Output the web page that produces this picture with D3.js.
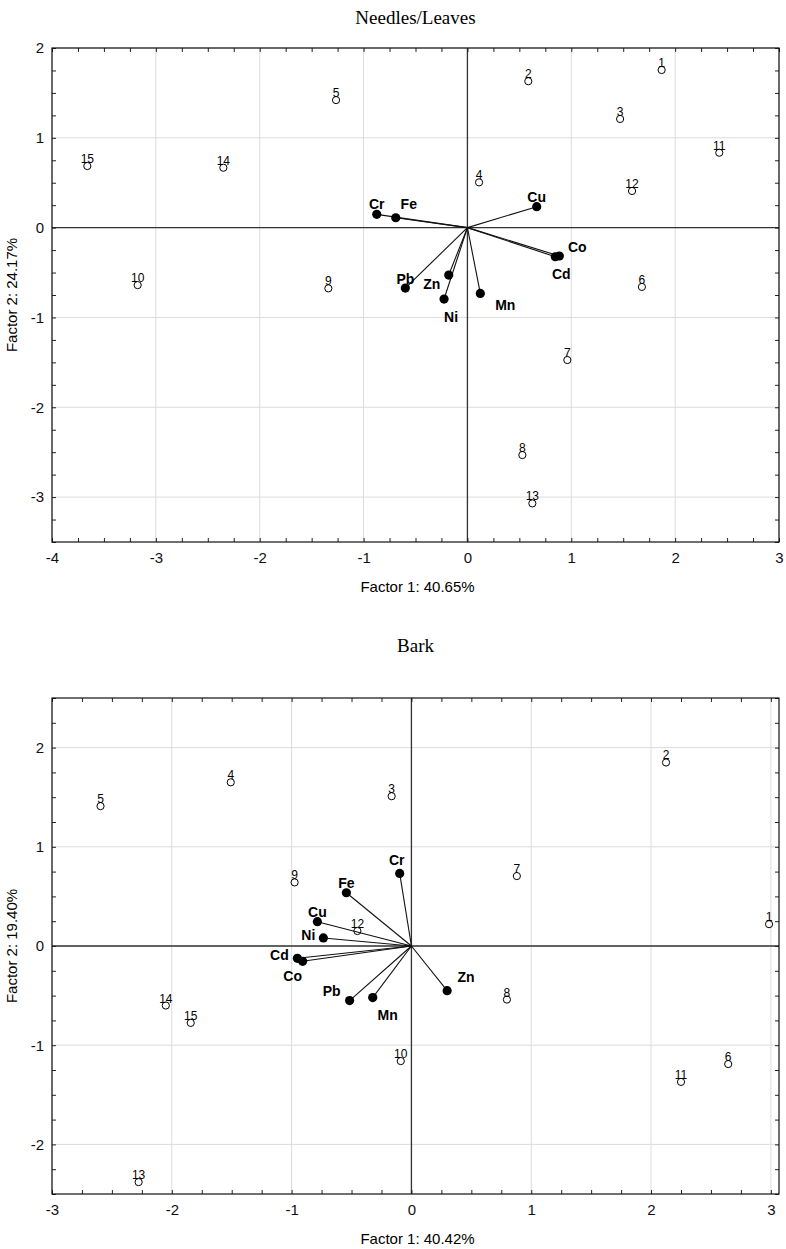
<!DOCTYPE html>
<html><head><meta charset="utf-8">
<script src="https://cdn.jsdelivr.net/npm/d3@7"></script>
<style>body{margin:0;background:#fff}svg{display:block}</style>
</head><body><svg id="c" width="786" height="1249"></svg>
<script>
// ---------- data ----------
const caseIds = ["1","2","3","4","5","6","7","8","9","10","11","12","13","14","15"];
const needlesCaseF1 = [1.87, 0.586, 1.47, 0.112, -1.265, 1.68, 0.962, 0.529, -1.339, -3.175, 2.425, 1.585, 0.625, -2.35, -3.66];
const needlesCaseF2 = [1.755, 1.63, 1.21, 0.504, 1.42, -0.66, -1.474, -2.532, -0.676, -0.64, 0.834, 0.408, -3.07, 0.667, 0.686];
const needlesElements = ["Cr","Fe","Cu","Co","Cd","Pb","Zn","Ni","Mn"];
const needlesLoadF1 = [-0.873, -0.69, 0.667, 0.885, 0.846, -0.598, -0.18, -0.225, 0.124];
const needlesLoadF2 = [0.148, 0.11, 0.233, -0.316, -0.324, -0.673, -0.528, -0.795, -0.732];

const barkCaseF1 = [2.985, 2.125, -0.165, -1.508, -2.595, 2.644, 0.88, 0.797, -0.975, -0.089, 2.25, -0.451, -2.277, -2.05, -1.842];
const barkCaseF2 = [0.22, 1.85, 1.51, 1.65, 1.41, -1.19, 0.705, -0.54, 0.641, -1.16, -1.37, 0.151, -2.38, -0.60, -0.775];
const barkElements = ["Cr","Fe","Cu","Ni","Cd","Co","Pb","Mn","Zn"];
const barkLoadF1 = [-0.098, -0.543, -0.785, -0.735, -0.952, -0.908, -0.516, -0.323, 0.298];
const barkLoadF2 = [0.732, 0.537, 0.245, 0.081, -0.124, -0.154, -0.55, -0.52, -0.45];

const needlesXTicks = [-4,-3,-2,-1,0,1,2,3];
const needlesYTicks = [-3,-2,-1,0,1,2];
const barkXTicks = [-3,-2,-1,0,1,2,3];
const barkYTicks = [-2,-1,0,1,2];

// ---------- layout (label offsets in px, not data) ----------
const needlesLabelOff = {Cr:[0,-10],Fe:[13,-14],Cu:[0,-10],Co:[18,-9],Cd:[6,17],Pb:[0,-9],Zn:[-17,9],Ni:[7,18],Mn:[25,12]};
const barkLabelOff = {Cr:[-3,-13],Fe:[0,-10],Cu:[0,-10],Ni:[-15,-3],Cd:[-18,-3],Co:[-10,15],Pb:[-18,-10],Mn:[15,17],Zn:[19,-14]};

const svg = d3.select("#c");
const fmt = d => d < 0 ? "-" + Math.abs(d) : String(d);

function panel(o) {
  const x = d3.scaleLinear().domain(o.xDom).range([o.left, o.right]);
  const y = d3.scaleLinear().domain(o.yDom).range([o.bottom, o.top]);
  const g = svg.append("g");

  g.append("text").attr("x", (o.left + o.right) / 2).attr("y", o.titleY)
    .attr("text-anchor", "middle").style("font-family", "'Liberation Serif','Times New Roman',serif")
    .style("font-size", "19px").text(o.title);

  g.selectAll(".gx").data(o.xTicks).join("line")
    .attr("x1", d => x(d)).attr("x2", d => x(d)).attr("y1", o.top).attr("y2", o.bottom)
    .attr("stroke", "#dcdcdc").attr("stroke-width", 1);
  g.selectAll(".gy").data(o.yTicks).join("line")
    .attr("y1", d => y(d)).attr("y2", d => y(d)).attr("x1", o.left).attr("x2", o.right)
    .attr("stroke", "#dcdcdc").attr("stroke-width", 1);

  g.append("line").attr("x1", x(0)).attr("x2", x(0)).attr("y1", o.top).attr("y2", o.bottom)
    .attr("stroke", "#333").attr("stroke-width", 1.3);
  g.append("line").attr("y1", y(0)).attr("y2", y(0)).attr("x1", o.left).attr("x2", o.right)
    .attr("stroke", "#333").attr("stroke-width", 1.3);

  const xMinor = d3.range(Math.ceil(o.xDom[0] * 4), Math.floor(o.xDom[1] * 4) + 1).map(v => v / 4);
  const yMinor = d3.range(Math.ceil(o.yDom[0] * 4), Math.floor(o.yDom[1] * 4) + 1).map(v => v / 4);
  const tickStyle = s => s.call(a => a.select(".domain").remove())
    .call(a => a.selectAll("line").attr("stroke", "#222"));
  g.append("g").attr("transform", `translate(0,${o.bottom})`)
    .call(d3.axisTop(x).tickValues(xMinor).tickSize(4).tickFormat("")).call(tickStyle);
  g.append("g").attr("transform", `translate(0,${o.top})`)
    .call(d3.axisBottom(x).tickValues(xMinor).tickSize(4).tickFormat("")).call(tickStyle);
  g.append("g").attr("transform", `translate(${o.left},0)`)
    .call(d3.axisRight(y).tickValues(yMinor).tickSize(4).tickFormat("")).call(tickStyle);
  g.append("g").attr("transform", `translate(${o.right},0)`)
    .call(d3.axisLeft(y).tickValues(yMinor).tickSize(4).tickFormat("")).call(tickStyle);

  const labStyle = s => s.call(a => a.select(".domain").remove())
    .call(a => a.selectAll("line").remove())
    .call(a => a.selectAll("text").style("font-family", "'Liberation Sans',Arial,sans-serif")
      .style("font-size", "15px").attr("fill", "#111"));
  g.append("g").attr("transform", `translate(0,${o.bottom})`)
    .call(d3.axisBottom(x).tickValues(o.xTicks).tickSize(0).tickPadding(10).tickFormat(fmt)).call(labStyle);
  g.append("g").attr("transform", `translate(${o.left},0)`)
    .call(d3.axisLeft(y).tickValues(o.yTicks).tickSize(0).tickPadding(8).tickFormat(fmt)).call(labStyle);

  g.append("rect").attr("x", o.left).attr("y", o.top).attr("width", o.right - o.left)
    .attr("height", o.bottom - o.top).attr("fill", "none").attr("stroke", "#111").attr("stroke-width", 1.2);

  g.append("text").attr("x", (o.left + o.right) / 2 + 2).attr("y", o.bottom + 50)
    .attr("text-anchor", "middle").style("font-family", "'Liberation Sans',Arial,sans-serif")
    .style("font-size", "15px").text(o.xTitle);
  g.append("text").attr("transform", `translate(17,${(o.top + o.bottom) / 2}) rotate(-90)`)
    .attr("text-anchor", "middle").style("font-family", "'Liberation Sans',Arial,sans-serif")
    .style("font-size", "15px").text(o.yTitle);

  const L = o.elements.map((e, i) => ({e, f1: o.lf1[i], f2: o.lf2[i]}));
  g.selectAll(".vec").data(L).join("line")
    .attr("x1", x(0)).attr("y1", y(0)).attr("x2", d => x(d.f1)).attr("y2", d => y(d.f2))
    .attr("stroke", "#111").attr("stroke-width", 1.1);
  g.selectAll(".ld").data(L).join("circle")
    .attr("cx", d => x(d.f1)).attr("cy", d => y(d.f2)).attr("r", 4.6).attr("fill", "#000");
  g.selectAll(".ll").data(L).join("text")
    .attr("x", d => x(d.f1) + o.off[d.e][0]).attr("y", d => y(d.f2) + o.off[d.e][1])
    .attr("text-anchor", "middle").attr("dominant-baseline", "central")
    .style("font-family", "'Liberation Sans',Arial,sans-serif").style("font-weight", "bold")
    .style("font-size", "14px").text(d => d.e);

  const C = caseIds.map((id, i) => ({id, f1: o.cf1[i], f2: o.cf2[i]}));
  g.selectAll(".cl").data(C).join("text")
    .attr("x", d => x(d.f1)).attr("y", d => y(d.f2) - 7)
    .attr("text-anchor", "middle").attr("dominant-baseline", "central")
    .style("font-family", "'Liberation Sans',Arial,sans-serif").style("font-size", "12px")
    .attr("fill", "#000").text(d => d.id);
  g.selectAll(".cp").data(C).join("circle")
    .attr("cx", d => x(d.f1)).attr("cy", d => y(d.f2)).attr("r", 3.6)
    .attr("fill", "none").attr("stroke", "#000").attr("stroke-width", 1);
}

panel({
  title: "Needles/Leaves", titleY: 24,
  left: 52, right: 779, top: 48, bottom: 542,
  xDom: [-4, 3], yDom: [-3.5, 2],
  xTicks: needlesXTicks, yTicks: needlesYTicks,
  xTitle: "Factor 1: 40.65%", yTitle: "Factor 2: 24.17%",
  elements: needlesElements, lf1: needlesLoadF1, lf2: needlesLoadF2, off: needlesLabelOff,
  cf1: needlesCaseF1, cf2: needlesCaseF2
});
panel({
  title: "Bark", titleY: 652,
  left: 52, right: 779, top: 698, bottom: 1194,
  xDom: [-3, 3.068], yDom: [-2.5, 2.5],
  xTicks: barkXTicks, yTicks: barkYTicks,
  xTitle: "Factor 1: 40.42%", yTitle: "Factor 2: 19.40%",
  elements: barkElements, lf1: barkLoadF1, lf2: barkLoadF2, off: barkLabelOff,
  cf1: barkCaseF1, cf2: barkCaseF2
});
</script></body></html>
